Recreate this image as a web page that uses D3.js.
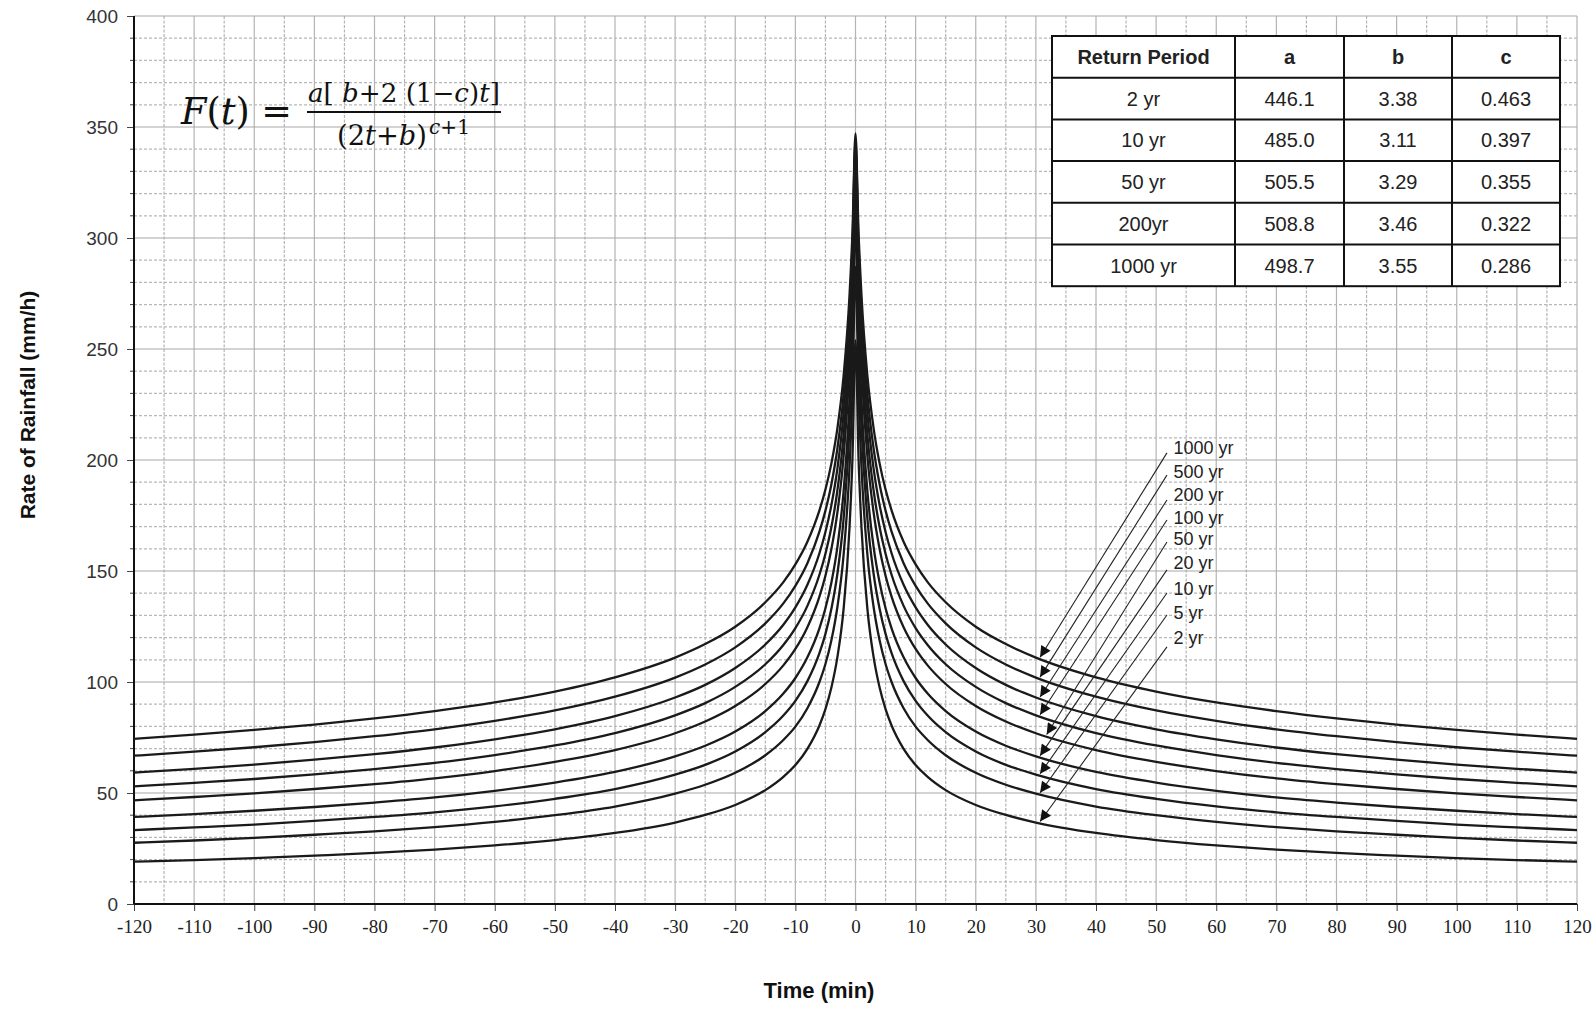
<!DOCTYPE html>
<html>
<head>
<meta charset="utf-8">
<script src="https://cdn.jsdelivr.net/npm/d3@7"></script>
<style>
  body { margin: 0; background: #fff; }
  svg { display: block; }
</style>
</head>
<body>
<svg id="chart" width="1596" height="1010"></svg>
<script>
// minutes after the peak (left half of the storm is the mirror image)
const times = [0, 0.5, 1, 2, 3, 4, 5, 6, 8, 10, 12, 15, 20, 25, 30, 40, 50, 60, 70, 80, 90, 100, 110, 120];

// rainfall rate (mm/h)
const rain2    = [253.9, 201.3, 169.4, 132.4, 111.4, 97.6, 87.8, 80.4, 69.9, 62.6, 57.3, 51.3, 44.6, 40.1, 36.7, 32.0, 28.8, 26.4, 24.5, 23.0, 21.8, 20.7, 19.8, 19.1];
const rain5    = [287.0, 230.5, 196.4, 156.7, 134.0, 118.9, 108.1, 100.0, 88.2, 79.9, 73.9, 67.0, 59.1, 53.7, 49.7, 43.9, 40.0, 37.0, 34.6, 32.7, 31.2, 29.8, 28.6, 27.6];
const rain10   = [309.1, 250.0, 214.4, 172.9, 149.0, 133.1, 121.7, 113.0, 100.4, 91.5, 84.9, 77.4, 68.7, 62.7, 58.3, 51.8, 47.4, 44.0, 41.3, 39.2, 37.4, 35.8, 34.5, 33.3];
const rain20   = [318.8, 261.7, 226.7, 185.3, 161.1, 144.9, 133.2, 124.2, 111.1, 101.8, 94.8, 86.9, 77.7, 71.3, 66.5, 59.5, 54.7, 51.0, 48.0, 45.7, 43.7, 42.0, 40.5, 39.2];
const rain50   = [331.2, 276.5, 242.3, 201.0, 176.6, 160.0, 147.9, 138.5, 124.7, 114.9, 107.5, 99.1, 89.2, 82.2, 76.9, 69.3, 64.0, 59.9, 56.6, 54.0, 51.8, 49.8, 48.2, 46.7];
const rain100  = [336.2, 284.1, 251.1, 210.7, 186.5, 169.9, 157.8, 148.3, 134.3, 124.3, 116.7, 108.0, 97.8, 90.5, 85.0, 77.0, 71.4, 67.1, 63.6, 60.8, 58.4, 56.3, 54.6, 53.0];
const rain200  = [341.2, 291.7, 259.8, 220.4, 196.3, 179.8, 167.6, 158.0, 143.8, 133.6, 125.8, 116.9, 106.3, 98.7, 93.0, 84.6, 78.7, 74.2, 70.5, 67.5, 65.0, 62.8, 60.9, 59.2];
const rain500  = [344.2, 297.4, 266.9, 228.9, 205.4, 189.2, 177.2, 167.7, 153.5, 143.3, 135.4, 126.4, 115.6, 107.9, 102.0, 93.4, 87.2, 82.5, 78.7, 75.6, 72.9, 70.6, 68.6, 66.8];
const rain1000 = [347.1, 303.0, 274.0, 237.3, 214.5, 198.6, 186.7, 177.3, 163.2, 153.0, 145.0, 135.9, 124.9, 117.1, 111.0, 102.1, 95.7, 90.8, 86.9, 83.6, 80.8, 78.4, 76.3, 74.4];

// curve labels, top to bottom, with label level and arrow start level (mm/h)
const labelNames  = ['1000 yr', '500 yr', '200 yr', '100 yr', '50 yr', '20 yr', '10 yr', '5 yr', '2 yr'];
const labelLevels = [205.4, 194.6, 184.2, 173.9, 164.4, 153.6, 141.9, 131.1, 119.8];
const arrowStarts = [203.2, 193.2, 182.0, 173.0, 163.1, 150.5, 140.1, 130.2, 115.8];
const arrowTipT   = [30.7, 30.7, 30.7, 30.7, 31.8, 30.7, 30.7, 30.7, 30.7];

// parameter table
const tableHead    = ['Return Period', 'a', 'b', 'c'];
const tablePeriods = ['2 yr', '10 yr', '50 yr', '200yr', '1000 yr'];
const tableA       = ['446.1', '485.0', '505.5', '508.8', '498.7'];
const tableB       = ['3.38', '3.11', '3.29', '3.46', '3.55'];
const tableC       = ['0.463', '0.397', '0.355', '0.322', '0.286'];

const series = [
  { name: '2 yr', values: rain2 },
  { name: '5 yr', values: rain5 },
  { name: '10 yr', values: rain10 },
  { name: '20 yr', values: rain20 },
  { name: '50 yr', values: rain50 },
  { name: '100 yr', values: rain100 },
  { name: '200 yr', values: rain200 },
  { name: '500 yr', values: rain500 },
  { name: '1000 yr', values: rain1000 }
];

const svg = d3.select('#chart');
const plotLeft = 134, plotRight = 1577, plotTop = 16, plotBottom = 904;

const x = d3.scaleLinear().domain([-120, 120]).range([plotLeft, plotRight]);
const y = d3.scaleLinear().domain([0, 400]).range([plotBottom, plotTop]);

svg.append('rect').attr('width', 1596).attr('height', 1010).attr('fill', '#fff');

// grid
const grid = svg.append('g');
grid.selectAll('.vgrid')
  .data(d3.range(-120, 121, 5))
  .join('line')
  .attr('x1', d => x(d)).attr('x2', d => x(d))
  .attr('y1', plotTop).attr('y2', plotBottom)
  .attr('stroke', '#b4b4b4')
  .attr('stroke-width', 1.2)
  .attr('stroke-dasharray', d => d % 10 === 0 ? null : '3,1.5');

grid.selectAll('.hgrid')
  .data(d3.range(10, 401, 10))
  .join('line')
  .attr('x1', plotLeft).attr('x2', plotRight)
  .attr('y1', d => y(d)).attr('y2', d => y(d))
  .attr('stroke', d => d % 50 === 0 ? '#a8a8a8' : '#b8b8b8')
  .attr('stroke-width', 1.2)
  .attr('stroke-dasharray', d => d % 50 === 0 ? null : '3,2');

// axes
const yAxis = svg.append('g')
  .attr('transform', `translate(${plotLeft},0)`)
  .call(d3.axisLeft(y).tickValues(d3.range(0, 401, 50)).tickSize(7).tickPadding(9));
yAxis.select('.domain').remove();
yAxis.selectAll('text')
  .attr('font-family', 'Liberation Sans, Arial, sans-serif')
  .attr('font-size', 19).attr('fill', '#333');
yAxis.selectAll('line').attr('stroke', '#444');

svg.append('g')
  .selectAll('line')
  .data(d3.range(10, 401, 10).filter(d => d % 50 !== 0))
  .join('line')
  .attr('x1', plotLeft - 4).attr('x2', plotLeft)
  .attr('y1', d => y(d)).attr('y2', d => y(d))
  .attr('stroke', '#444');

const xAxis = svg.append('g')
  .attr('transform', `translate(0,${plotBottom})`)
  .call(d3.axisBottom(x).tickValues(d3.range(-120, 121, 10)).tickSize(7).tickPadding(9)
    .tickFormat(d => String(d)));
xAxis.select('.domain').remove();
xAxis.selectAll('text')
  .attr('font-family', 'Liberation Serif, Times New Roman, serif')
  .attr('font-size', 19).attr('fill', '#222');
xAxis.selectAll('line').attr('stroke', '#444');

svg.append('line')
  .attr('x1', plotLeft).attr('x2', plotLeft).attr('y1', plotTop).attr('y2', plotBottom)
  .attr('stroke', '#111').attr('stroke-width', 2);
svg.append('line')
  .attr('x1', plotLeft).attr('x2', plotRight).attr('y1', plotBottom).attr('y2', plotBottom)
  .attr('stroke', '#111').attr('stroke-width', 2);

// curves: mirrored about the peak
const line = d3.line()
  .x(d => x(d[0]))
  .y(d => y(d[1]))
  .curve(d3.curveMonotoneX);

series.forEach(s => {
  const pts = [];
  for (let i = times.length - 1; i > 0; i--) pts.push([-times[i], s.values[i]]);
  times.forEach((t, i) => pts.push([t, s.values[i]]));
  svg.append('path')
    .datum(pts)
    .attr('d', line)
    .attr('fill', 'none')
    .attr('stroke', '#1a1a1a')
    .attr('stroke-width', 2.3);
});

// arrows to curves
svg.append('defs').append('marker')
  .attr('id', 'arrow')
  .attr('viewBox', '0 0 10 10')
  .attr('refX', 10).attr('refY', 5)
  .attr('markerUnits', 'userSpaceOnUse')
  .attr('markerWidth', 13).attr('markerHeight', 11)
  .attr('orient', 'auto')
  .append('path')
  .attr('d', 'M0,0 L10,5 L0,10 z')
  .attr('fill', '#111');

function valueAt(values, t) {
  const i = d3.bisectRight(times, t) - 1;
  const f = (t - times[i]) / (times[i + 1] - times[i]);
  return values[i] + f * (values[i + 1] - values[i]);
}

const labelG = svg.append('g');
labelNames.forEach((name, i) => {
  const s = series.find(d => d.name === name);
  const tipY = valueAt(s.values, arrowTipT[i]) + 0.8;
  labelG.append('line')
    .attr('x1', x(51.8)).attr('y1', y(arrowStarts[i]))
    .attr('x2', x(arrowTipT[i])).attr('y2', y(tipY))
    .attr('stroke', '#222').attr('stroke-width', 1.1)
    .attr('marker-end', 'url(#arrow)');
  labelG.append('text')
    .attr('x', x(52.9)).attr('y', y(labelLevels[i]))
    .attr('dy', '0.35em')
    .attr('font-family', 'Liberation Sans, Arial, sans-serif')
    .attr('font-size', 18).attr('fill', '#222')
    .text(name);
});

// axis titles
svg.append('text')
  .attr('transform', `translate(35,405) rotate(-90)`)
  .attr('text-anchor', 'middle')
  .attr('font-family', 'Liberation Sans, Arial, sans-serif')
  .attr('font-weight', 'bold').attr('font-size', 21).attr('fill', '#111')
  .text('Rate of Rainfall (mm/h)');
svg.append('text')
  .attr('x', 819).attr('y', 998)
  .attr('text-anchor', 'middle')
  .attr('font-family', 'Liberation Sans, Arial, sans-serif')
  .attr('font-weight', 'bold').attr('font-size', 22).attr('fill', '#111')
  .text('Time (min)');

// formula: font sizes are scaled so each piece fills its width in the reference
function fitWidth(sel, size, width) {
  const w = sel.node().getComputedTextLength();
  sel.attr('font-size', size * width / w);
}

const fg = svg.append('g').attr('font-family', 'DejaVu Serif, Liberation Serif, serif').attr('fill', '#111');
const lhs = fg.append('text').attr('x', 181).attr('y', 124).attr('font-size', 40);
lhs.append('tspan').attr('font-style', 'italic').text('F');
lhs.append('tspan').text('(');
lhs.append('tspan').attr('font-style', 'italic').text('t');
lhs.append('tspan').text(') =');
fitWidth(lhs, 40, 111);

const num = fg.append('text').attr('x', 308).attr('y', 102).attr('font-size', 28);
[['a', true], ['[ ', false], ['b', true], ['+2 (1−', false], ['c', true], [')', false], ['t', true], [']', false]]
  .forEach(([s, it]) => num.append('tspan').attr('font-style', it ? 'italic' : null).text(s));
fitWidth(num, 28, 192);

fg.append('line')
  .attr('x1', 307).attr('x2', 501).attr('y1', 112).attr('y2', 112)
  .attr('stroke', '#111').attr('stroke-width', 2);

const den = fg.append('text').attr('x', 337).attr('y', 145).attr('font-size', 29);
[['(2', false], ['t', true], ['+', false], ['b', true], [')', false]]
  .forEach(([s, it]) => den.append('tspan').attr('font-style', it ? 'italic' : null).text(s));
fitWidth(den, 29, 90);
const sup = fg.append('text').attr('x', 429).attr('y', 134).attr('font-size', 21);
sup.append('tspan').attr('font-style', 'italic').text('c');
sup.append('tspan').text('+1');
fitWidth(sup, 21, 41);

// parameter table
const colX = [1052, 1235, 1344, 1452, 1560];
const rowY = d3.range(0, 7).map(i => 36 + i * 41.7);
const rows = [tableHead].concat(tablePeriods.map((p, i) => [p, tableA[i], tableB[i], tableC[i]]));
const tg = svg.append('g');
tg.append('rect')
  .attr('x', colX[0]).attr('y', rowY[0])
  .attr('width', colX[4] - colX[0]).attr('height', rowY[6] - rowY[0])
  .attr('fill', '#fff').attr('stroke', '#111').attr('stroke-width', 2);
colX.slice(1, 4).forEach(cx => tg.append('line')
  .attr('x1', cx).attr('x2', cx).attr('y1', rowY[0]).attr('y2', rowY[6])
  .attr('stroke', '#111').attr('stroke-width', 2));
rowY.slice(1, 6).forEach(ry => tg.append('line')
  .attr('x1', colX[0]).attr('x2', colX[4]).attr('y1', ry).attr('y2', ry)
  .attr('stroke', '#111').attr('stroke-width', 2));
rows.forEach((r, ri) => r.forEach((cell, ci) => {
  tg.append('text')
    .attr('x', (colX[ci] + colX[ci + 1]) / 2)
    .attr('y', (rowY[ri] + rowY[ri + 1]) / 2)
    .attr('dy', '0.36em')
    .attr('text-anchor', 'middle')
    .attr('font-family', 'Liberation Sans, Arial, sans-serif')
    .attr('font-size', 20)
    .attr('font-weight', ri === 0 ? 'bold' : null)
    .attr('fill', '#222')
    .text(cell);
}));
</script>
</body>
</html>
